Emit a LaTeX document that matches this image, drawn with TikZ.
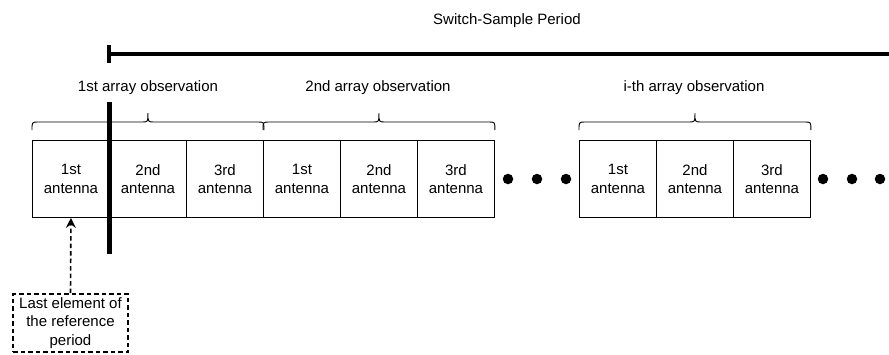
\documentclass[tikz,border=0pt]{standalone}
\usepackage{fontspec}
\setmainfont{Liberation Sans}
\usetikzlibrary{arrows.meta,calc}
\begin{document}
\begin{tikzpicture}[x=1pt,y=-1pt,
  txt/.style={font=\fontsize{15}{18.5}\selectfont},
  cell/.style={txt, draw, line width=0.9pt, minimum width=77pt, minimum height=77pt, inner sep=0pt, align=center, anchor=north west},
  lbl/.style={txt, inner sep=0pt},
  dot/.style={circle, fill=black, minimum size=10.5pt, inner sep=0pt},
  brc/.style={line width=0.9pt},
  thickbar/.style={line width=4.2pt},
  dsh/.style={line width=1.6pt, dash pattern=on 4.5pt off 3pt}]
\useasboundingbox (0,0) rectangle (889,354);
% cells
\node[cell] (a1) at (32,140) {1st\\antenna};
\node[cell] (a2) at (109,140) {2nd\\antenna};
\node[cell] (a3) at (186,140) {3rd\\antenna};
\node[cell] (b1) at (263,140) {1st\\antenna};
\node[cell] (b2) at (340,140) {2nd\\antenna};
\node[cell] (b3) at (417,140) {3rd\\antenna};
\node[cell] (c1) at (579,140) {1st\\antenna};
\node[cell] (c2) at (656,140) {2nd\\antenna};
\node[cell] (c3) at (733,140) {3rd\\antenna};
% dots
\node[dot] (d1) at (508,179) {};
\node[dot] (d2) at (537,179) {};
\node[dot] (d3) at (566,179) {};
\node[dot] (e1) at (823,179) {};
\node[dot] (e2) at (852,179) {};
\node[dot] (e3) at (880,179) {};
% braces
\foreach \l/\m/\r in {a1/a2/a3, b1/b2/b3, c1/c2/c3}{
  \draw[brc] ($(\l.north west)+(0,-10)$) .. controls +(0,-8) .. ++(6,-8)
     -- ($(\m.north)+(-6,-18)$) .. controls +(6,0) .. ++(6,-9)
     .. controls +(0,9) .. ++(6,9)
     -- ($(\r.north east)+(-6,-18)$) .. controls +(6,0) .. ++(6,8);
}
% labels
\node[lbl] (l1) at (148,88) {1st array observation};
\node[lbl] (l2) at (378,88) {2nd array observation};
\node[lbl] (l3) at (694,88) {i-th array observation};
\node[lbl] (sp) at (507,21) {Switch-Sample Period};
% thick markers
\coordinate (t1) at (109.5,102);
\coordinate (t2) at (109.5,254);
\draw[thickbar] (t1) -- (t2);
\coordinate (p1) at (109,45);
\coordinate (p2) at (109,63);
\coordinate (p3) at (109,54);
\coordinate (p4) at (889,54);
\draw[thickbar] (p1) -- (p2);
\draw[thickbar] (p3) -- (p4);
% reference box
\node[txt, draw, dsh, minimum width=115pt, minimum height=58pt, inner sep=0pt, align=center] (ref) at (70.5,323) {Last element of\\the reference\\period};
\draw[dsh, -{Stealth[length=10pt,width=10pt,inset=3.5pt]}] (ref.north) -- (a1.south);
\end{tikzpicture}
\end{document}
